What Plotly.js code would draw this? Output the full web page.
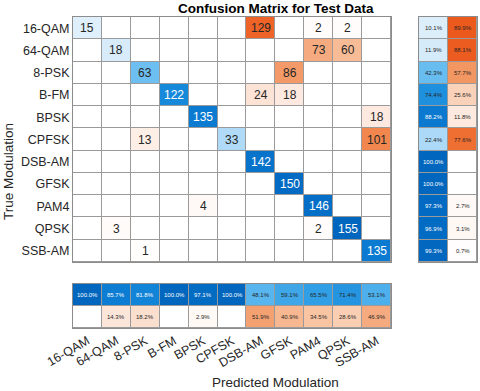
<!DOCTYPE html>
<html>
<head>
<meta charset="utf-8">
<script src="https://cdn.plot.ly/plotly-3.0.1.min.js"></script>
<style>html,body{margin:0;padding:0;background:#fff;}#chart{width:480px;height:391px;}</style>
</head>
<body>
<div id="chart"></div>
<script>
// ---- data ----
var classes = ['16-QAM','64-QAM','8-PSK','B-FM','BPSK','CPFSK','DSB-AM','GFSK','PAM4','QPSK','SSB-AM'];
// rows = true class, columns = predicted class
var row16QAM = [15,0,0,0,0,0,129,0,2,2,0];
var row64QAM = [0,18,0,0,0,0,0,0,73,60,0];
var row8PSK  = [0,0,63,0,0,0,0,86,0,0,0];
var rowBFM   = [0,0,0,122,0,0,24,18,0,0,0];
var rowBPSK  = [0,0,0,0,135,0,0,0,0,0,18];
var rowCPFSK = [0,0,13,0,0,33,0,0,0,0,101];
var rowDSBAM = [0,0,0,0,0,0,142,0,0,0,0];
var rowGFSK  = [0,0,0,0,0,0,0,150,0,0,0];
var rowPAM4  = [0,0,0,0,4,0,0,0,146,0,0];
var rowQPSK  = [0,3,0,0,0,0,0,0,2,155,0];
var rowSSBAM = [0,0,1,0,0,0,0,0,0,0,135];
var summaryCols = ['correct','incorrect'];

var counts = [row16QAM,row64QAM,row8PSK,rowBFM,rowBPSK,rowCPFSK,rowDSBAM,rowGFSK,rowPAM4,rowQPSK,rowSSBAM];
var n = classes.length;

// ---- derived ----
var maxVal = 0;
counts.forEach(function(r){ r.forEach(function(v){ if(v>maxVal) maxVal=v; }); });

var zMain = counts.map(function(r,i){ return r.map(function(v,j){ return (i===j?1:-1)*v/maxVal; }); });

var rowPct = counts.map(function(r,i){
  var s = r.reduce(function(a,b){return a+b;},0);
  var c = 100*r[i]/s;
  return [c, 100-c];
});
var zRight = rowPct.map(function(p){ return [p[0]/100, -p[1]/100]; });

var colPct = classes.map(function(_,j){
  var s = 0; for (var i=0;i<n;i++) s += counts[i][j];
  var c = 100*counts[j][j]/s;
  return [c, 100-c];
});
var zBottom = [colPct.map(function(p){return p[0]/100;}), colPct.map(function(p){return -p[1]/100;})];

// diverging colorscale: orange (off-diagonal) <- white -> blue (diagonal)
var cscale = [
  [0.000,'rgb(228,78,18)'],
  [0.075,'rgb(238,95,35)'],
  [0.150,'rgb(240,125,65)'],
  [0.225,'rgb(243,155,105)'],
  [0.325,'rgb(248,195,160)'],
  [0.425,'rgb(252,228,215)'],
  [0.475,'rgb(254,244,238)'],
  [0.500,'rgb(255,255,255)'],
  [0.550,'rgb(222,238,251)'],
  [0.650,'rgb(140,205,245)'],
  [0.725,'rgb(95,185,238)'],
  [0.825,'rgb(50,160,230)'],
  [0.900,'rgb(20,135,218)'],
  [0.950,'rgb(8,118,205)'],
  [1.000,'rgb(0,102,190)']
];

var FONT = 'Liberation Sans, Arial, Helvetica, sans-serif';
var DARK = '#262626';
function txtColor(t){ return t >= 0.76 ? '#ffffff' : DARK; }

var hm = {type:'heatmap', colorscale:cscale, zmin:-1, zmax:1, showscale:false, xgap:1, ygap:1, hoverinfo:'skip'};
function mk(extra){ var o={}; for (var k in hm) o[k]=hm[k]; for (var k2 in extra) o[k2]=extra[k2]; return o; }

var traces = [
  mk({x:classes, y:classes, z:zMain, xaxis:'x', yaxis:'y'}),
  mk({x:summaryCols, y:classes, z:zRight, xaxis:'x2', yaxis:'y2'}),
  mk({x:classes, y:summaryCols, z:zBottom, xaxis:'x3', yaxis:'y3'})
];

var ann = [];
counts.forEach(function(r,i){
  r.forEach(function(v,j){
    if (v === 0) return;
    ann.push({xref:'x', yref:'y', x:classes[j], y:classes[i], text:String(v), showarrow:false,
      font:{family:FONT, size:12, color:txtColor(zMain[i][j])}});
  });
});
rowPct.forEach(function(p,i){
  p.forEach(function(v,k){
    if (v < 0.05) return;
    ann.push({xref:'x2', yref:'y2', x:summaryCols[k], y:classes[i], text:v.toFixed(1)+'%', showarrow:false,
      font:{family:FONT, size:6, color:txtColor(zRight[i][k])}});
  });
});
colPct.forEach(function(p,j){
  p.forEach(function(v,k){
    if (v < 0.05) return;
    ann.push({xref:'x3', yref:'y3', x:classes[j], y:summaryCols[k], text:v.toFixed(1)+'%', showarrow:false,
      font:{family:FONT, size:6, color:txtColor(zBottom[k][j])}});
  });
});
ann.push({xref:'paper', yref:'paper', x:276/480, y:1-8.5/391, xanchor:'center', yanchor:'middle',
  text:'<b>Confusion Matrix for Test Data</b>', showarrow:false, font:{family:FONT, size:13.5, color:'#000'}});
ann.push({xref:'paper', yref:'paper', x:275/480, y:1-382/391, xanchor:'center', yanchor:'middle',
  text:'Predicted Modulation', showarrow:false, font:{family:FONT, size:13.5, color:DARK}});
ann.push({xref:'paper', yref:'paper', x:8/480, y:1-172/391, xanchor:'center', yanchor:'middle', textangle:-90,
  text:'True Modulation', showarrow:false, font:{family:FONT, size:13.5, color:DARK}});

var lineC = '#8c8c8c';
function ax(extra){
  var o = {type:'category', showgrid:false, zeroline:false, ticks:'', showline:true, mirror:true,
    linecolor:lineC, linewidth:1, fixedrange:true, showticklabels:false};
  for (var k in extra) o[k]=extra[k];
  return o;
}
var mainX = [73/480, 391/480];
var mainY = [1-262/391, 1-17/391];

var layout = {
  width:480, height:391,
  margin:{l:0, r:0, t:0, b:0},
  paper_bgcolor:'#ffffff',
  plot_bgcolor:'#9a9a9a',
  showlegend:false,
  font:{family:FONT, color:DARK},
  xaxis: ax({domain:mainX, anchor:'y', categoryorder:'array', categoryarray:classes}),
  yaxis: ax({domain:mainY, anchor:'x', categoryorder:'array', categoryarray:classes, autorange:'reversed',
    showticklabels:true, tickfont:{family:FONT, size:12.5, color:DARK}}),
  xaxis2: ax({domain:[419/480, 477/480], anchor:'y2', categoryorder:'array', categoryarray:summaryCols}),
  yaxis2: ax({domain:mainY, anchor:'x2', categoryorder:'array', categoryarray:classes, autorange:'reversed'}),
  xaxis3: ax({domain:mainX, anchor:'y3', categoryorder:'array', categoryarray:classes,
    showticklabels:true, tickangle:-30, tickfont:{family:FONT, size:12.5, color:DARK}}),
  yaxis3: ax({domain:[1-328/391, 1-284/391], anchor:'x3', categoryorder:'array', categoryarray:summaryCols, autorange:'reversed'}),
  annotations: ann
};

Plotly.newPlot('chart', traces, layout, {staticPlot:true, displayModeBar:false});
</script>
</body>
</html>
